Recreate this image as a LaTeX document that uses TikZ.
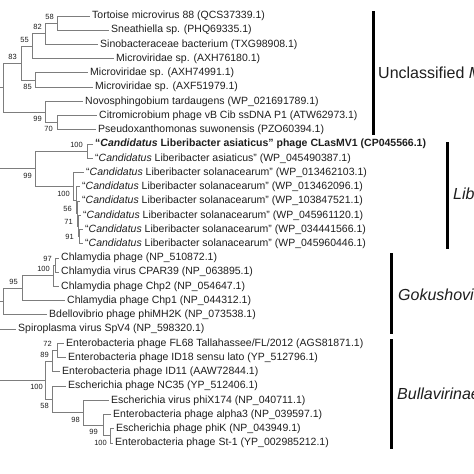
\documentclass[tikz,border=0pt]{standalone}
\usepackage{fontspec}
\setmainfont{Liberation Sans}
\usetikzlibrary{calc}
\definecolor{branchgray}{RGB}{125,125,125}
\definecolor{txt}{RGB}{30,30,30}
\begin{document}
\begin{tikzpicture}[x=1pt,y=-1pt,
 branch/.style={draw=branchgray,line width=0.9pt},
 leaf/.style={anchor=west,inner sep=2pt,text=txt,font=\fontsize{10.5}{12}\selectfont},
 boot/.style={anchor=east,inner sep=0pt,text=txt,font=\fontsize{7.5}{9}\selectfont},
 cladebar/.style={draw=black,line width=3pt},
 cladelabel/.style={anchor=west,inner sep=0pt,text=txt,font=\fontsize{16}{19}\selectfont}]
\useasboundingbox (0,0) rectangle (474,474);
\clip (0,0) rectangle (474,474);

% ---------- leaves ----------
\node[leaf] (L1) at (90,16) {Tortoise microvirus 88 (QCS37339.1)};
\node[leaf] (L2) at (109,30.2) {Sneathiella sp. (PHQ69335.1)};
\node[leaf] (L3) at (98,44.5) {Sinobacteraceae bacterium (TXG98908.1)};
\node[leaf] (L4) at (114,58.7) {Microviridae sp. (AXH76180.1)};
\node[leaf] (L5) at (88,72.9) {Microviridae sp. (AXH74991.1)};
\node[leaf] (L6) at (93,87.2) {Microviridae sp. (AXF51979.1)};
\node[leaf] (L7) at (83,101.4) {Novosphingobium tardaugens (WP\_021691789.1)};
\node[leaf] (L8) at (97,115.6) {Citromicrobium phage vB Cib ssDNA P1 (ATW62973.1)};
\node[leaf] (L9) at (96,129.9) {Pseudoxanthomonas suwonensis (PZO60394.1)};
\node[leaf] (L10) at (93,144.1) {\bfseries “\textit{Candidatus} Liberibacter asiaticus” phage CLasMV1 (CP045566.1)};
\node[leaf] (L11) at (93,158.3) {“\textit{Candidatus} Liberibacter asiaticus” (WP\_045490387.1)};
\node[leaf] (L12) at (84,172.6) {“\textit{Candidatus} Liberibacter solanacearum” (WP\_013462103.1)};
\node[leaf] (L13) at (80,186.8) {“\textit{Candidatus} Liberibacter solanacearum” (WP\_013462096.1)};
\node[leaf] (L14) at (80,201.0) {“\textit{Candidatus} Liberibacter solanacearum” (WP\_103847521.1)};
\node[leaf] (L15) at (81,215.3) {“\textit{Candidatus} Liberibacter solanacearum” (WP\_045961120.1)};
\node[leaf] (L16) at (83,229.5) {“\textit{Candidatus} Liberibacter solanacearum” (WP\_034441566.1)};
\node[leaf] (L17) at (83,243.7) {“\textit{Candidatus} Liberibacter solanacearum” (WP\_045960446.1)};
\node[leaf] (L18) at (59,258.0) {Chlamydia phage (NP\_510872.1)};
\node[leaf] (L19) at (59,272.2) {Chlamydia virus CPAR39 (NP\_063895.1)};
\node[leaf] (L20) at (59,286.4) {Chlamydia phage Chp2 (NP\_054647.1)};
\node[leaf] (L21) at (65,300.7) {Chlamydia phage Chp1 (NP\_044312.1)};
\node[leaf] (L22) at (47,314.9) {Bdellovibrio phage phiMH2K (NP\_073538.1)};
\node[leaf] (L23) at (16,329.1) {Spiroplasma virus SpV4 (NP\_598320.1)};
\node[leaf] (L24) at (64,343.4) {Enterobacteria phage FL68 Tallahassee/FL/2012 (AGS81871.1)};
\node[leaf] (L25) at (66,357.6) {Enterobacteria phage ID18 sensu lato (YP\_512796.1)};
\node[leaf] (L26) at (60,371.8) {Enterobacteria phage ID11 (AAW72844.1)};
\node[leaf] (L27) at (66,386.1) {Escherichia phage NC35 (YP\_512406.1)};
\node[leaf] (L28) at (109,400.3) {Escherichia virus phiX174 (NP\_040711.1)};
\node[leaf] (L29) at (111,414.5) {Enterobacteria phage alpha3 (NP\_039597.1)};
\node[leaf] (L30) at (114,428.8) {Escherichia phage phiK (NP\_043949.1)};
\node[leaf] (L31) at (113,443.0) {Enterobacteria phage St-1 (YP\_002985212.1)};

% ---------- internal nodes ----------
\coordinate (n58) at (57,23.1);
\coordinate (n82) at (45,33.8);
\coordinate (n55) at (32,46.25);
\coordinate (n85) at (35,80.05);
\coordinate (n83) at (21,63.15);
\coordinate (n70) at (57,122.75);
\coordinate (n99a) at (45,112.1);
\coordinate (nU) at (3,87.6);
\coordinate (rU) at (-3,87.6);

\coordinate (nCL) at (87,151.2);
\coordinate (n91) at (79,236.6);
\coordinate (n71) at (78,225.95);
\coordinate (n56) at (77,213.5);
\coordinate (n100b) at (76,200.15);
\coordinate (nA) at (73,186.4);
\coordinate (n99b) at (35,168.8);
\coordinate (rL) at (-3,168.8);

\coordinate (n97) at (55,265.1);
\coordinate (n100c) at (53,275.75);
\coordinate (n95) at (22,288.2);
\coordinate (nG) at (3,301.55);
\coordinate (rG) at (-3,301.55);
\coordinate (rS) at (-3,329.1);

\coordinate (n72) at (57,350.5);
\coordinate (n89) at (52,361.15);
\coordinate (n100e) at (110,435.9);
\coordinate (n99e) at (103,425.2);
\coordinate (n98) at (83,412.75);
\coordinate (n58e) at (52,399.4);
\coordinate (n100d) at (45,380.3);
\coordinate (rB) at (-3,380.3);

% ---------- branches ----------
\draw[branch] (n58) |- (L1.west);
\draw[branch] (n58) |- (L2.west);
\draw[branch] (n82) |- (n58);
\draw[branch] (n82) |- (L3.west);
\draw[branch] (n55) |- (n82);
\draw[branch] (n55) |- (L4.west);
\draw[branch] (n85) |- (L5.west);
\draw[branch] (n85) |- (L6.west);
\draw[branch] (n83) |- (n55);
\draw[branch] (n83) |- (n85);
\draw[branch] (n70) |- (L8.west);
\draw[branch] (n70) |- (L9.west);
\draw[branch] (n99a) |- (L7.west);
\draw[branch] (n99a) |- (n70);
\draw[branch] (nU) |- (n83);
\draw[branch] (nU) |- (n99a);
\draw[branch] (nU) -- (rU);

\draw[branch] (nCL) |- (L10.west);
\draw[branch] (nCL) |- (L11.west);
\draw[branch] (n91) |- (L16.west);
\draw[branch] (n91) |- (L17.west);
\draw[branch] (n71) |- (L15.west);
\draw[branch] (n71) |- (n91);
\draw[branch] (n56) |- (L14.west);
\draw[branch] (n56) |- (n71);
\draw[branch] (n100b) |- (L13.west);
\draw[branch] (n100b) |- (n56);
\draw[branch] (nA) |- (L12.west);
\draw[branch] (nA) |- (n100b);
\draw[branch] (n99b) |- (nCL);
\draw[branch] (n99b) |- (nA);
\draw[branch] (n99b) -- (rL);

\draw[branch] (n97) |- (L18.west);
\draw[branch] (n97) |- (L19.west);
\draw[branch] (n100c) |- (n97);
\draw[branch] (n100c) |- (L20.west);
\draw[branch] (n95) |- (n100c);
\draw[branch] (n95) |- (L21.west);
\draw[branch] (nG) |- (n95);
\draw[branch] (nG) |- (L22.west);
\draw[branch] (nG) -- (rG);

\draw[branch] (rS) -- (L23.west);

\draw[branch] (n72) |- (L24.west);
\draw[branch] (n72) |- (L25.west);
\draw[branch] (n89) |- (n72);
\draw[branch] (n89) |- (L26.west);
\draw[branch] (n100e) |- (L30.west);
\draw[branch] (n100e) |- (L31.west);
\draw[branch] (n99e) |- (L29.west);
\draw[branch] (n99e) |- (n100e);
\draw[branch] (n98) |- (L28.west);
\draw[branch] (n98) |- (n99e);
\draw[branch] (n58e) |- (L27.west);
\draw[branch] (n58e) |- (n98);
\draw[branch] (n100d) |- (n89);
\draw[branch] (n100d) |- (n58e);
\draw[branch] (n100d) -- (rB);

% ---------- bootstrap values ----------
\node[boot] (b58) at ($(n58)+(-3,-6.5)$) {58};
\node[boot] (b82) at ($(n82)+(-3,-6.5)$) {82};
\node[boot] (b55) at ($(n55)+(-3,-6.5)$) {55};
\node[boot] (b83) at ($(n83)+(-4,-6.5)$) {83};
\node[boot] (b85) at ($(n85)+(-3,6.5)$) {85};
\node[boot] (b99a) at ($(n99a)+(-3,6.5)$) {99};
\node[boot] (b70) at ($(n70)+(-4,6.5)$) {70};
\node[boot] (b100CL) at ($(nCL)+(-4,-6.5)$) {100};
\node[boot] (b99b) at ($(n99b)+(-3,7)$) {99};
\node[boot] (b100b) at ($(n100b)+(-6,-6)$) {100};
\node[boot] (b56) at ($(n56)+(-5,-5)$) {56};
\node[boot] (b71) at ($(n71)+(-5,-4)$) {71};
\node[boot] (b91) at ($(n91)+(-5,0)$) {91};
\node[boot] (b97) at ($(n97)+(-3,-6.5)$) {97};
\node[boot] (b100c) at ($(n100c)+(-3,-6.5)$) {100};
\node[boot] (b95) at ($(n95)+(-4,-6.5)$) {95};
\node[boot] (b72) at ($(n72)+(-5,-6.5)$) {72};
\node[boot] (b89) at ($(n89)+(-3,-6.5)$) {89};
\node[boot] (b100d) at ($(n100d)+(-2,7)$) {100};
\node[boot] (b58e) at ($(n58e)+(-3,7)$) {58};
\node[boot] (b98) at ($(n98)+(-3,7)$) {98};
\node[boot] (b99e) at ($(n99e)+(-5,7)$) {99};
\node[boot] (b100e) at ($(n100e)+(-3,7)$) {100};

% ---------- clade bars ----------
\coordinate (cU1) at (373,11);
\coordinate (cU2) at (373,135);
\coordinate (cL1) at (447,142);
\coordinate (cL2) at (447,249);
\coordinate (cG1) at (391,253);
\coordinate (cG2) at (391,334);
\coordinate (cB1) at (391,339);
\coordinate (cB2) at (391,449);
\draw[cladebar] (cU1) -- (cU2);
\draw[cladebar] (cL1) -- (cL2);
\draw[cladebar] (cG1) -- (cG2);
\draw[cladebar] (cB1) -- (cB2);
\node[cladelabel] (tU) at (378,73) {Unclassified \textit{Microviridae}};
\node[cladelabel] (tL) at (453,194) {\textit{Liberibacter}};
\node[cladelabel] (tG) at (398,295) {\textit{Gokushovirinae}};
\node[cladelabel] (tB) at (397,394) {\textit{Bullavirinae}};
\end{tikzpicture}
\end{document}
